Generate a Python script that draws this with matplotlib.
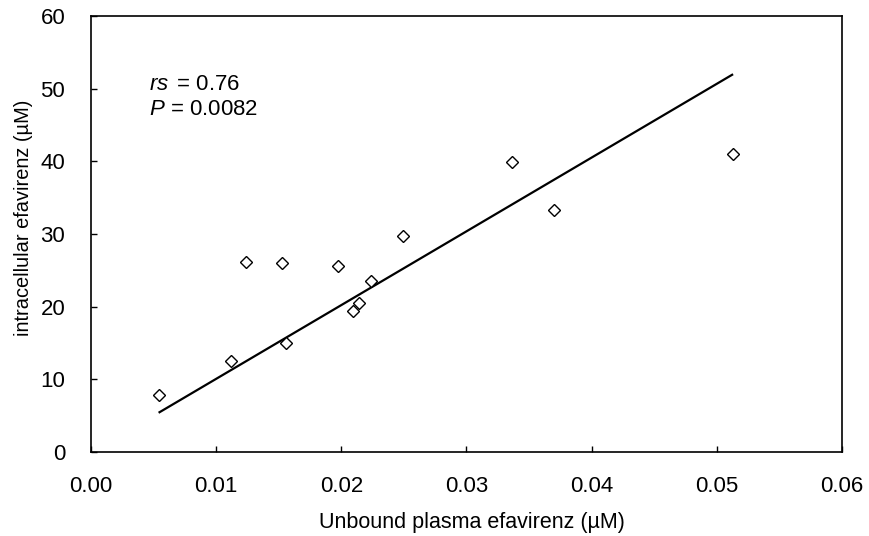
import matplotlib
matplotlib.use("Agg")
import matplotlib.pyplot as plt

# Unbound plasma vs intracellular efavirenz concentrations (µM)
unbound_plasma = [0.00541, 0.01116, 0.01241, 0.01525, 0.01557, 0.01973, 0.02092,
                  0.02145, 0.02235, 0.02490, 0.03365, 0.03697, 0.05131]
intracellular = [7.9, 12.5, 26.2, 26.0, 15.0, 25.6, 19.4,
                 20.5, 23.6, 29.7, 39.9, 33.3, 41.0]

# Regression line end points
fit_x = [0.0054, 0.0513]
fit_y = [5.4, 52.0]

x_ticks = [0.00, 0.01, 0.02, 0.03, 0.04, 0.05, 0.06]
y_ticks = [0, 10, 20, 30, 40, 50, 60]

plt.rcParams['font.family'] = ['Liberation Sans', 'DejaVu Sans']
plt.rcParams['mathtext.fontset'] = 'custom'
plt.rcParams['mathtext.it'] = 'Liberation Sans:italic'
plt.rcParams['mathtext.rm'] = 'Liberation Sans'

fig = plt.figure(figsize=(8.7, 5.36), dpi=100)
ax = fig.add_axes([0.1046, 0.1567, 0.8632, 0.8133])

ax.plot(fit_x, fit_y, color='black', linewidth=1.6, solid_capstyle='butt')
ax.plot(unbound_plasma, intracellular, linestyle='none', marker='D',
        markersize=6.4, markerfacecolor='white', markeredgecolor='black',
        markeredgewidth=1.0)

ax.set_xlim(0, 0.06)
ax.set_ylim(0, 60)
ax.set_xticks(x_ticks)
ax.set_xticklabels([f"{v:.2f}" for v in x_ticks])
ax.set_yticks(y_ticks)
ax.tick_params(direction='in', length=4.5, width=1.0, labelsize=16)
ax.tick_params(axis='x', pad=17)
ax.tick_params(axis='y', pad=18.5)
for s in ax.spines.values():
    s.set_linewidth(1.2)

ax.set_xlabel("Unbound plasma efavirenz (\u00b5M)", fontsize=15.5, labelpad=11, x=0.507)
ax.set_ylabel("intracellular efavirenz (\u00b5M)", fontsize=14.4, labelpad=5, y=0.537)

ax.text(0.0046, 49.8, r"$\it{rs}$ $\,$= 0.76", fontsize=16, va='baseline', ha='left')
ax.text(0.0046, 46.35, r"$\it{P}$ = 0.0082", fontsize=16, va='baseline', ha='left')

fig.savefig("out.png", dpi=100)
